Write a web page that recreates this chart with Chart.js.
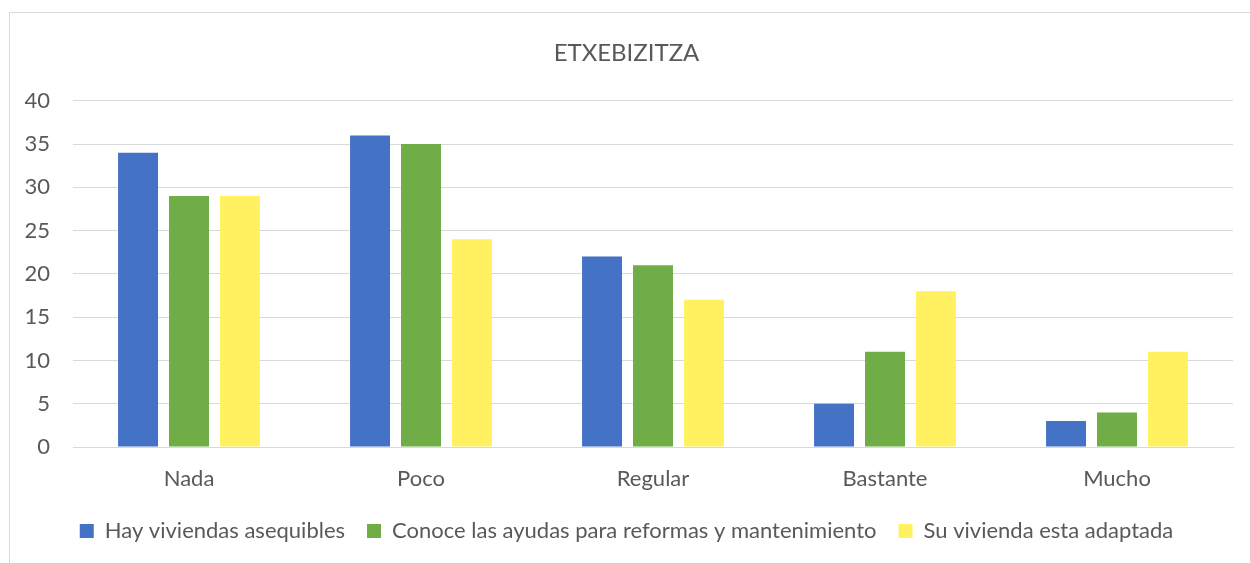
<!DOCTYPE html>
<html>
<head>
<meta charset="utf-8">
<script src="https://cdn.jsdelivr.net/npm/chart.js@4"></script>
<style>
  html, body { margin: 0; padding: 0; background: #fff; }
  #wrap { position: relative; width: 1250px; height: 563px; overflow: hidden; }
  #frame { position: absolute; left: 9px; top: 12px; width: 1260px; height: 570px; border: 1px solid #D9D9D9; box-sizing: border-box; }
  canvas { position: absolute; left: 0; top: 0; }
</style>
</head>
<body>
<div id="wrap">
  <div id="frame"></div>
  <canvas id="chart" width="1250" height="563"></canvas>
</div>
<script>
  var categories = ['Nada', 'Poco', 'Regular', 'Bastante', 'Mucho'];
  var viviendasAsequibles = [34, 36, 22, 5, 3];
  var conoceAyudas = [29, 35, 21, 11, 4];
  var viviendaAdaptada = [29, 24, 17, 18, 11];
  var yTicks = [0, 5, 10, 15, 20, 25, 30, 35, 40];

  var txt = '#595959';
  Chart.defaults.font.family = "Lato, 'Open Sans', sans-serif";
  Chart.defaults.color = txt;

  new Chart(document.getElementById('chart'), {
    type: 'bar',
    data: {
      labels: categories,
      datasets: [
        { label: 'Hay viviendas asequibles', data: viviendasAsequibles, backgroundColor: '#4472C4' },
        { label: 'Conoce las ayudas para reformas y mantenimiento', data: conoceAyudas, backgroundColor: '#70AD47' },
        { label: 'Su vivienda esta adaptada', data: viviendaAdaptada, backgroundColor: '#FFF15F' }
      ]
    },
    options: {
      responsive: false,
      animation: false,
      categoryPercentage: 0.659,
      barPercentage: 0.784,
      layout: { padding: { left: 20, right: 17, top: 0, bottom: 11 } },
      plugins: {
        title: {
          display: true,
          text: 'ETXEBIZITZA',
          color: txt,
          font: { size: 24, weight: 'normal' },
          padding: { top: 39, bottom: 33 }
        },
        legend: {
          position: 'bottom',
          labels: {
            boxWidth: 14,
            boxHeight: 14,
            padding: 22,
            color: txt,
            font: { size: 22 }
          }
        },
        tooltip: { enabled: false }
      },
      scales: {
        y: {
          min: 0,
          max: 40,
          afterFit: function (s) { s.width = 53; },
          afterBuildTicks: function (s) { s.ticks = yTicks.map(function (v) { return { value: v }; }); },
          ticks: { padding: 23, font: { size: 22 }, color: txt },
          grid: { color: '#D9D9D9', drawTicks: false },
          border: { display: false }
        },
        x: {
          afterFit: function (s) { s.height = 51; },
          ticks: { padding: 11, font: { size: 22 }, color: txt },
          grid: { display: false },
          border: { color: '#D9D9D9' }
        }
      }
    }
  });
</script>
</body>
</html>
